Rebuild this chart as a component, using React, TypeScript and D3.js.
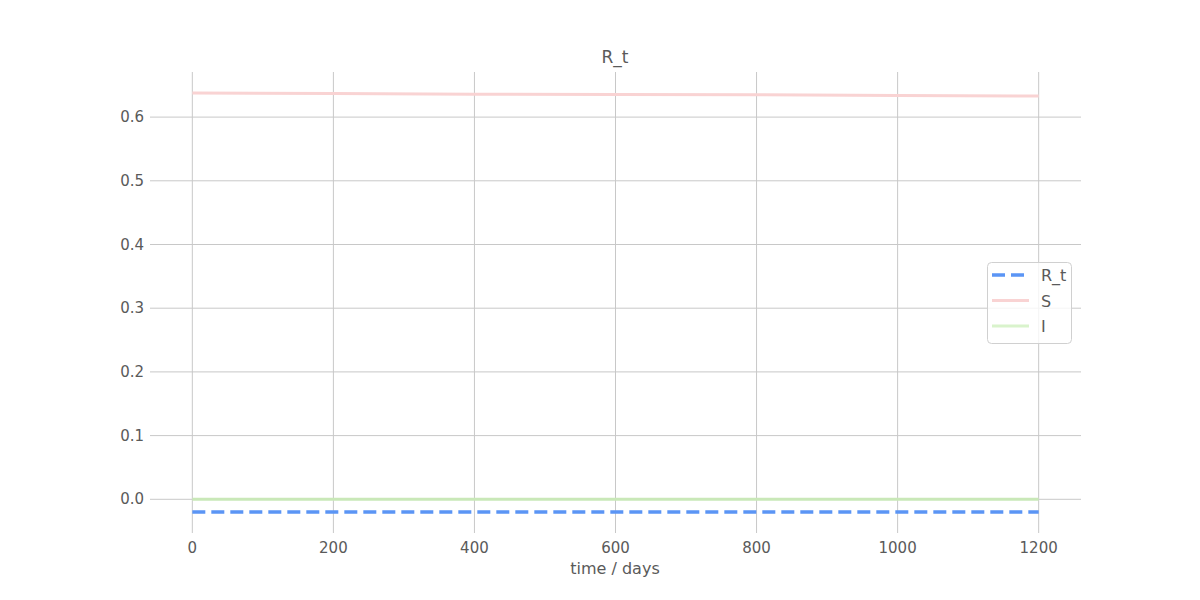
import React, { useRef, useEffect } from 'react';
import * as d3 from 'd3';

// days sampled along the run
const days = [0, 200, 400, 600, 800, 1000, 1200];
const sValues = [0.638, 0.637, 0.636, 0.6355, 0.635, 0.634, 0.633];
const iValues = [0, 0, 0, 0, 0, 0, 0];
const rtValues = [-0.02, -0.02, -0.02, -0.02, -0.02, -0.02, -0.02];
const xTicks = [0, 200, 400, 600, 800, 1000, 1200];
const yTicks = [0.0, 0.1, 0.2, 0.3, 0.4, 0.5, 0.6];
const legendNames = ['R_t', 'S', 'I'];

const FONT = '"DejaVu Sans", "Noto Sans", sans-serif';
const TXT = '#5a5a5a';

const App = () => {
  const ref = useRef<SVGSVGElement>(null);

  useEffect(() => {
    const svg = d3.select(ref.current);
    svg.selectAll('*').remove();

    const left = 150, right = 1081, top = 72, bottom = 533;

    const x = d3.scaleLinear().domain([-60, 1260]).range([left, right]);
    const y = d3.scaleLinear().domain([-0.0529, 0.6708]).range([bottom, top]);

    // grid
    svg.append('g').selectAll('line').data(xTicks).join('line')
      .attr('x1', d => x(d)).attr('x2', d => x(d))
      .attr('y1', top).attr('y2', bottom)
      .attr('stroke', '#c8c8c8').attr('stroke-width', 1);
    svg.append('g').selectAll('line').data(yTicks).join('line')
      .attr('x1', left).attr('x2', right)
      .attr('y1', d => y(d)).attr('y2', d => y(d))
      .attr('stroke', '#c8c8c8').attr('stroke-width', 1);

    // tick labels
    svg.append('g').selectAll('text').data(xTicks).join('text')
      .attr('x', d => x(d)).attr('y', 553)
      .attr('text-anchor', 'middle')
      .attr('font-family', FONT).attr('font-size', 15).attr('fill', TXT)
      .text(d => d3.format('d')(d));
    svg.append('g').selectAll('text').data(yTicks).join('text')
      .attr('x', 144).attr('y', d => y(d) + 5)
      .attr('text-anchor', 'end')
      .attr('font-family', FONT).attr('font-size', 15).attr('fill', TXT)
      .text(d => d3.format('.1f')(d));

    svg.append('text').attr('x', 615).attr('y', 574).attr('text-anchor', 'middle')
      .attr('font-family', FONT).attr('font-size', 16).attr('fill', TXT)
      .text('time / days');
    svg.append('text').attr('x', 615).attr('y', 63).attr('text-anchor', 'middle')
      .attr('font-family', FONT).attr('font-size', 17).attr('fill', TXT)
      .text('R_t');

    const line = (vals: number[]) =>
      d3.line<number>().x((_, i) => x(days[i])).y(d => y(d))(vals);

    svg.append('path').attr('d', line(sValues)).attr('fill', 'none')
      .attr('stroke', '#f9d3d3').attr('stroke-width', 3);
    svg.append('path').attr('d', line(iValues)).attr('fill', 'none')
      .attr('stroke', '#c9e8b8').attr('stroke-width', 3);
    svg.append('path').attr('d', line(rtValues)).attr('fill', 'none')
      .attr('stroke', '#5b95f5').attr('stroke-width', 3.5)
      .attr('stroke-dasharray', '13,6');

    // legend
    const lg = svg.append('g');
    lg.append('rect').attr('x', 987.5).attr('y', 262.5).attr('width', 84).attr('height', 81)
      .attr('rx', 4).attr('fill', 'white').attr('fill-opacity', 0.8)
      .attr('stroke', '#d0d0d0');
    const styles = [
      { c: '#5b95f5', dash: '13,6', w: 3.5 },
      { c: '#f9d3d3', dash: null, w: 3 },
      { c: '#d9f3cc', dash: null, w: 3 },
    ];
    legendNames.forEach((n, i) => {
      const yy = 275 + i * 25.5;
      lg.append('line').attr('x1', 992).attr('x2', 1029).attr('y1', yy).attr('y2', yy)
        .attr('stroke', styles[i].c).attr('stroke-width', styles[i].w)
        .attr('stroke-dasharray', styles[i].dash);
      lg.append('text').attr('x', 1041).attr('y', yy + 6)
        .attr('font-family', FONT).attr('font-size', 16).attr('fill', TXT)
        .text(n);
    });
  }, []);

  return (
    <svg ref={ref} width={1200} height={600} style={{ position: 'absolute', left: 0, top: 0 }}></svg>
  );
};

export default App;
